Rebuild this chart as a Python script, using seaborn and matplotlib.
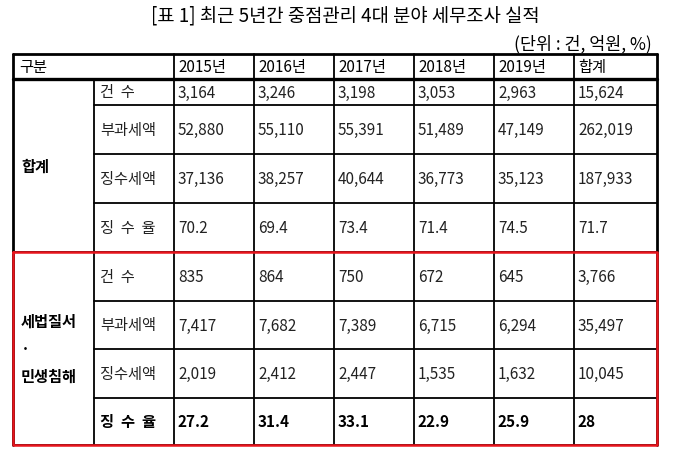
import matplotlib
matplotlib.use("Agg")
import matplotlib.pyplot as plt
import seaborn as sns

sns.set_style("white")
plt.rcParams['font.family'] = ['Noto Sans CJK KR', 'DejaVu Sans']

title = "[표 1] 최근 5년간 중점관리 4대 분야 세무조사 실적"
unit = "(단위 : 건, 억원, %)"
years = ["2015년", "2016년", "2017년", "2018년", "2019년", "합계"]
items = ["건  수", "부과세액", "징수세액", "징  수  율"]
groups = ["합계", "세법질서\n·\n민생침해"]
total_vals = [
    ["3,164", "3,246", "3,198", "3,053", "2,963", "15,624"],
    ["52,880", "55,110", "55,391", "51,489", "47,149", "262,019"],
    ["37,136", "38,257", "40,644", "36,773", "35,123", "187,933"],
    ["70.2", "69.4", "73.4", "71.4", "74.5", "71.7"],
]
order_vals = [
    ["835", "864", "750", "672", "645", "3,766"],
    ["7,417", "7,682", "7,389", "6,715", "6,294", "35,497"],
    ["2,019", "2,412", "2,447", "1,535", "1,632", "10,045"],
    ["27.2", "31.4", "33.1", "22.9", "25.9", "28"],
]

fig = plt.figure(figsize=(6.8, 4.6), dpi=100)
ax = fig.add_axes([0, 0, 1, 1])
ax.set_xlim(0, 680)
ax.set_ylim(460, 0)
ax.axis("off")

xs = [13, 94, 174, 254, 334, 414, 494, 574, 657]
hdr = (55, 80)
rows_top = [80, 106, 155, 204, 253]
rows_bot = [253, 302, 350, 399, 446]
fs = 11
txtc = "#222222"

ax.text(345, 16, title, ha="center", va="center", fontsize=13.5, color="black")
ax.text(652, 44, unit, ha="right", va="center", fontsize=12.5, color="black")

# header
ax.text(xs[0] + 6, sum(hdr) / 2, "구분", va="center", fontsize=fs, color="black")
for i, y in enumerate(years):
    ax.text(xs[i + 2] + 4, sum(hdr) / 2, y, va="center", fontsize=fs, color="black")

def section(rows, vals, group, bold_last):
    for r in range(4):
        yc = (rows[r] + rows[r + 1]) / 2
        w = "bold" if (bold_last and r == 3) else "normal"
        c = "black" if w == "bold" else txtc
        ax.text(xs[1] + 6, yc, items[r], va="center", fontsize=fs, color=c, fontweight=w)
        for i in range(6):
            ax.text(xs[i + 2] + 4, yc, vals[r][i], va="center", fontsize=fs, color=c, fontweight=w)
    ax.text(xs[0] + 8, (rows[0] + rows[-1]) / 2, group, va="center", ha="left",
            fontsize=fs, color="black", fontweight="bold", linespacing=1.9)

section(rows_top, total_vals, groups[0], False)
section(rows_bot, order_vals, groups[1], True)

lw = 1.3
ax.plot([xs[0], xs[-1]], [hdr[0], hdr[0]], color="black", lw=2)
ax.plot([xs[0], xs[-1]], [hdr[1], hdr[1]], color="black", lw=2.4)
for y in rows_top[1:-1] + rows_bot[1:-1]:
    ax.plot([xs[1], xs[-1]], [y, y], color="black", lw=lw)
ax.plot([xs[0], xs[-1]], [rows_bot[-1], rows_bot[-1]], color="black", lw=lw)
ax.plot([xs[0], xs[-1]], [253, 253], color="black", lw=lw)
for i, x in enumerate(xs):
    top = hdr[1] if i == 1 else hdr[0]
    lwv = 2 if i in (0, len(xs) - 1) else lw
    ax.plot([x, x], [top, rows_bot[-1]], color="black", lw=lwv)

ax.plot([xs[0], xs[-1], xs[-1], xs[0], xs[0]],
        [rows_bot[0], rows_bot[0], rows_bot[-1], rows_bot[-1], rows_bot[0]],
        color="#e8141c", lw=1.8)

fig.savefig("out.png", dpi=100, facecolor="white")
